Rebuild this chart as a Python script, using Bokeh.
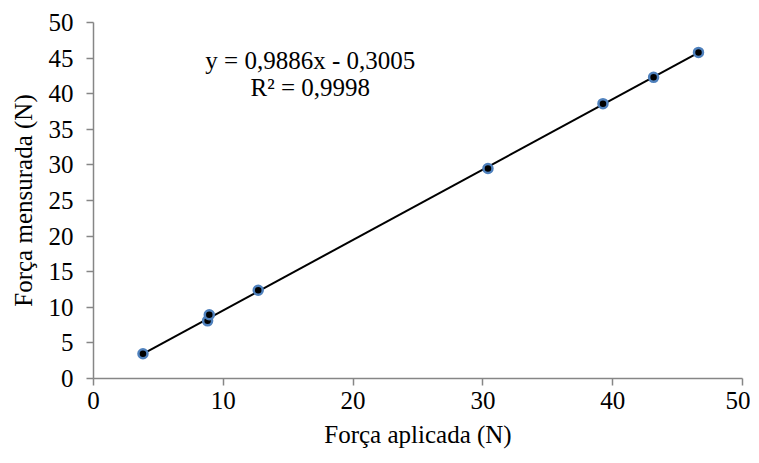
from bokeh.plotting import figure
from bokeh.models import Range1d, FixedTicker, ColumnDataSource
from bokeh.core.properties import value
from bokeh.embed import file_html
from bokeh.resources import INLINE

# Data
forca_aplicada = [3.81, 8.79, 8.92, 12.69, 30.39, 39.25, 43.15, 46.61]
forca_mensurada = [3.47, 8.10, 8.95, 12.40, 29.50, 38.60, 42.30, 45.80]
slope = 0.9886
intercept = -0.3005
r2 = 0.9998
x_ticks = [0, 10, 20, 30, 40, 50]
y_ticks = [0, 5, 10, 15, 20, 25, 30, 35, 40, 45, 50]

FONT = "'Liberation Serif', serif"
FS = "25px"
AXIS_COLOR = "#868686"

p = figure(
    width=750, height=455,
    output_backend="svg", toolbar_location=None,
    x_range=Range1d(0, 50), y_range=Range1d(0, 50),
    min_border_left=93, min_border_right=8,
    min_border_top=22, min_border_bottom=77,
)
p.frame_width = 649
p.frame_height = 356
p.outline_line_color = None
p.grid.visible = False
p.background_fill_color = "white"
p.border_fill_color = "white"

for ax, ticks in ((p.xaxis[0], x_ticks), (p.yaxis[0], y_ticks)):
    ax.ticker = FixedTicker(ticks=ticks)
    ax.axis_line_color = AXIS_COLOR
    ax.axis_line_width = 1.5
    ax.major_tick_line_color = AXIS_COLOR
    ax.major_tick_line_width = 1.5
    ax.major_tick_out = 7
    ax.major_tick_in = 0
    ax.minor_tick_line_color = None
    ax.major_label_text_font = FONT
    ax.major_label_text_font_size = FS
    ax.major_label_text_color = "black"
    ax.axis_label_text_font = FONT
    ax.axis_label_text_font_size = FS
    ax.axis_label_text_font_style = "normal"
    ax.axis_label_text_color = "black"

p.xaxis.axis_label = "Força aplicada (N)"
p.yaxis.axis_label = "Força mensurada (N)"
p.xaxis.major_label_standoff = 6
p.yaxis.major_label_standoff = 13
p.xaxis.axis_label_standoff = 9
p.yaxis.axis_label_standoff = 9

# Trendline over data range
x0, x1 = min(forca_aplicada), max(forca_aplicada)
p.line([x0, x1], [slope * x0 + intercept, slope * x1 + intercept],
       line_color="black", line_width=2)

src = ColumnDataSource(dict(x=forca_aplicada, y=forca_mensurada))
p.scatter("x", "y", source=src, size=9, fill_color="black",
          line_color="#4f81bd", line_width=2.5)

eq1 = "y = " + f"{slope:.4f}".replace(".", ",") + "x - " + f"{abs(intercept):.4f}".replace(".", ",")
eq2 = "R² = " + f"{r2:.4f}".replace(".", ",")
p.text(x=[16.7, 16.7], y=[44.7, 40.9], text=[eq1, eq2],
       text_font=value("Liberation Serif"), text_font_size=FS, text_color="black",
       text_align="center", text_baseline="middle")

open("out.html", "w").write(file_html(p, INLINE))
